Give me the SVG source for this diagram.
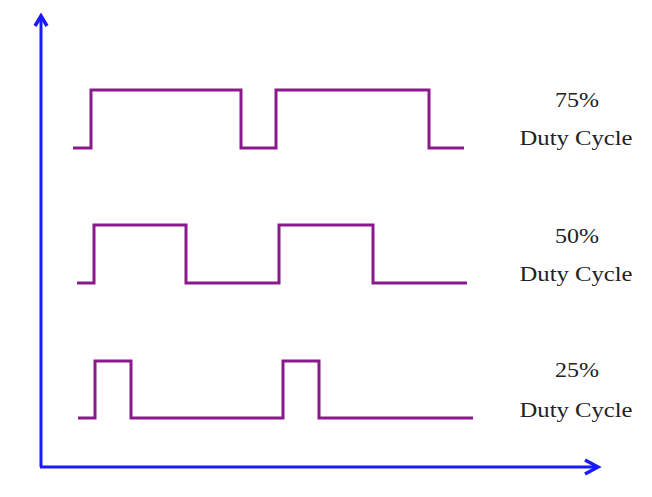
<svg xmlns="http://www.w3.org/2000/svg" width="652" height="497" viewBox="0 0 652 497">
<style>
.wave{fill:none;stroke:#8a1a8c;stroke-width:3;stroke-linejoin:miter}
.axis{fill:none;stroke:#1a1aff;stroke-width:3}
.head{fill:none;stroke:#1a1aff;stroke-width:3.5;stroke-linejoin:miter}
.lbl{font-family:"Liberation Serif","Times New Roman",serif;font-size:22px;fill:#222;text-anchor:middle}
</style>
<rect width="652" height="497" fill="#ffffff"/>
<g id="connectors">
<line class="axis" x1="41" y1="17" x2="41" y2="467"/>
<line class="axis" x1="40" y1="467" x2="597" y2="467"/>
<polyline class="head" points="35,26 41,16 47,26"/>
<polyline class="head" points="585,460 598,467 585,474"/>
</g>
<g id="wave75">
<polyline class="wave" points="73,148 91,148 91,90 241,90 241,148 276,148 276,90 429,90 429,148 464,148"/>
<text class="lbl" x="577" y="107" textLength="44" lengthAdjust="spacingAndGlyphs">75%</text>
<text class="lbl" x="576" y="145" textLength="113" lengthAdjust="spacingAndGlyphs">Duty Cycle</text>
</g>
<g id="wave50">
<polyline class="wave" points="77,283 94,283 94,225 186,225 186,283 279,283 279,225 373,225 373,283 467,283"/>
<text class="lbl" x="577" y="243" textLength="44" lengthAdjust="spacingAndGlyphs">50%</text>
<text class="lbl" x="576" y="281" textLength="113" lengthAdjust="spacingAndGlyphs">Duty Cycle</text>
</g>
<g id="wave25">
<polyline class="wave" points="78,418 95,418 95,361 131,361 131,418 283,418 283,361 319,361 319,418 473,418"/>
<text class="lbl" x="577" y="377" textLength="44" lengthAdjust="spacingAndGlyphs">25%</text>
<text class="lbl" x="576" y="417" textLength="113" lengthAdjust="spacingAndGlyphs">Duty Cycle</text>
</g>
</svg>
